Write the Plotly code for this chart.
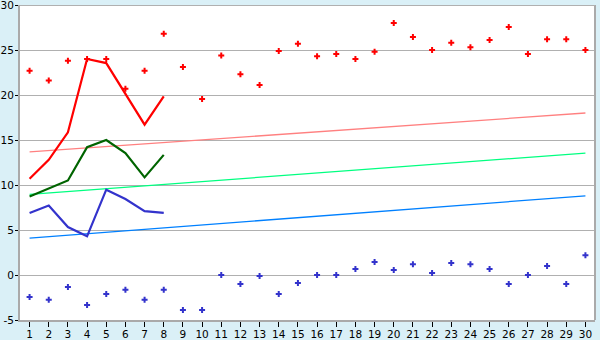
import plotly.graph_objects as go

days = list(range(1, 31))

red_points = [22.7, 21.6, 23.8, 24.0, 24.0, 20.7, 22.7, 26.8, 23.1, 19.55,
              24.4, 22.3, 21.1, 24.9, 25.7, 24.3, 24.55, 24.0, 24.8, 28.0,
              26.45, 25.0, 25.8, 25.3, 26.1, 27.55, 24.55, 26.2, 26.2, 25.0]
blue_points = [-2.45, -2.75, -1.33, -3.33, -2.1, -1.63, -2.75, -1.63, -3.9, -3.9,
               0.0, -1.0, -0.1, -2.1, -0.9, 0.0, 0.0, 0.67, 1.45, 0.55,
               1.2, 0.22, 1.33, 1.2, 0.67, -1.0, 0.0, 1.0, -1.0, 2.2]

line_days = [1, 2, 3, 4, 5, 6, 7, 8]
red_line = [10.7, 12.8, 15.85, 24.0, 23.55, 20.2, 16.7, 19.85]
green_line = [8.73, 9.6, 10.5, 14.2, 15.0, 13.55, 10.85, 13.35]
blue_line = [6.9, 7.73, 5.33, 4.3, 9.48, 8.44, 7.1, 6.9]

trend_days = [1, 30]
red_trend = [13.67, 18.0]
green_trend = [8.96, 13.55]
blue_trend = [4.1, 8.8]

x_ticks = list(range(1, 31))
y_ticks = [-5, 0, 5, 10, 15, 20, 25, 30]

fig = go.Figure()
for y, c in [(red_trend, "#ff8080"), (green_trend, "#00ff80"), (blue_trend, "#0080ff")]:
    fig.add_trace(go.Scatter(x=trend_days, y=y, mode="lines",
                             line=dict(color=c, width=1.3), hoverinfo="skip"))
for y, c in [(red_line, "#ff0000"), (green_line, "#006400"), (blue_line, "#3333cc")]:
    fig.add_trace(go.Scatter(x=line_days, y=y, mode="lines",
                             line=dict(color=c, width=2.2)))
fig.add_trace(go.Scatter(x=days, y=red_points, mode="markers",
                         marker=dict(symbol="cross", size=5, color="#ff0000", line=dict(width=0))))
fig.add_trace(go.Scatter(x=days, y=blue_points, mode="markers",
                         marker=dict(symbol="cross", size=5, color="#3333cc", line=dict(width=0))))

fig.update_layout(
    width=600, height=340,
    margin=dict(l=20, r=5, t=5, b=20, autoexpand=False),
    paper_bgcolor="#daf0f7",
    plot_bgcolor="#ffffff",
    showlegend=False,
    font=dict(family="DejaVu Sans", size=11, color="#000000"),
)
fig.update_xaxes(range=[0.5, 30.5], tickvals=x_ticks, ticktext=[str(v) for v in x_ticks],
                 showgrid=False, zeroline=False, showline=True, linecolor="#aaaaaa", linewidth=2,
                 mirror=False, ticks="outside", ticklen=5, tickcolor="#000000", tickwidth=1,
                 automargin=False, ticklabelstandoff=-2, tickfont=dict(size=10.5))
fig.update_yaxes(range=[-5, 30], tickvals=y_ticks, ticktext=[str(v) for v in y_ticks],
                 showgrid=True, gridcolor="#b0b0b0", gridwidth=1, zeroline=False,
                 showline=True, linecolor="#aaaaaa", linewidth=2,
                 ticks="outside", ticklen=3, tickcolor="#000000", tickwidth=1,
                 automargin=False, ticklabeloverflow="allow", ticklabelstandoff=-1,
                 tickfont=dict(size=10.5))
# right border and top gridline
fig.add_shape(type="line", xref="paper", yref="paper", x0=1, x1=1, y0=0, y1=1,
              line=dict(color="#aaaaaa", width=2))
fig.add_shape(type="line", xref="paper", yref="y", x0=0, x1=1, y0=y_ticks[-1], y1=y_ticks[-1],
              line=dict(color="#b0b0b0", width=2))
fig.write_html("out.html")
